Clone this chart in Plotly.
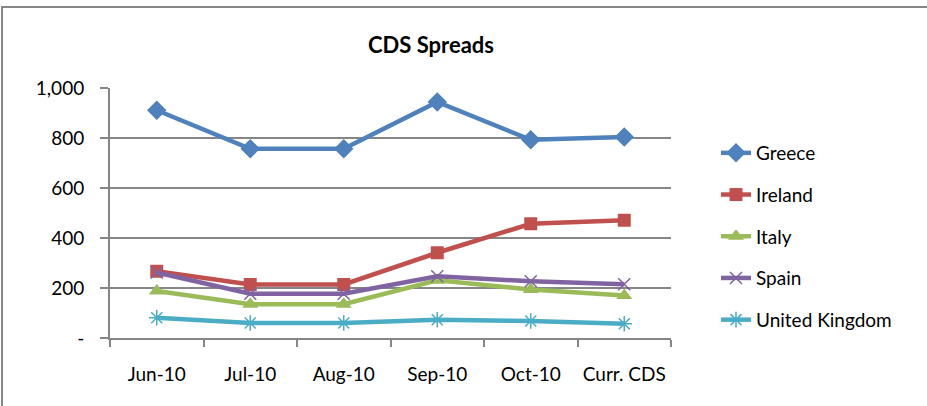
import plotly.graph_objects as go

categories = ["Jun-10", "Jul-10", "Aug-10", "Sep-10", "Oct-10", "Curr. CDS"]
greece = [911, 757, 757, 944, 793, 804]
ireland = [267, 214, 214, 341, 457, 471]
italy = [188, 135, 135, 231, 194, 170]
spain = [262, 177, 177, 247, 227, 215]
uk = [81, 60, 60, 73, 68, 57]

ytick_vals = [0, 200, 400, 600, 800, 1000]
ytick_text = ["-", "200", "400", "600", "800", "1,000"]

W, H = 927, 406
L, R, T, B = 110, 256, 88, 68
PW, PH = W - L - R, H - T - B

FONT = "Lato"

series = [
    ("Greece", greece, "#4F81BD", dict(symbol="diamond", size=15)),
    ("Ireland", ireland, "#C0504D", dict(symbol="square", size=13)),
    ("Italy", italy, "#9BBB59", dict(symbol="triangle-up", size=14)),
    ("Spain", spain, "#8064A2", dict(symbol="x-thin", size=12)),
    ("United Kingdom", uk, "#4BACC6", dict(symbol="asterisk", size=13)),
]

fig = go.Figure()
for i, (name, vals, color, mk) in enumerate(series):
    marker = dict(color=color, **mk)
    if "thin" in mk["symbol"] or mk["symbol"] == "asterisk":
        marker["line"] = dict(color=color, width=1.5)
    fig.add_trace(go.Scatter(
        x=categories, y=vals, name=name, mode="lines+markers",
        line=dict(color=color, width=4.5),
        marker=marker,
        legendgroup=f"g{i}",
    ))

def px_x(px):
    return (px - L) / PW

def px_y(py):
    return (H - B - py) / PH

fig.update_layout(
    width=W, height=H,
    margin=dict(l=L, r=R, t=T, b=B, autoexpand=False),
    paper_bgcolor="white", plot_bgcolor="white",
    font=dict(family=FONT, size=19, color="#000000"),
    title=dict(text="<b>CDS Spreads</b>", font=dict(family=FONT, size=22, color="#000000"),
               x=431 / W, xanchor="center", xref="container",
               y=1 - 45.5 / H, yanchor="middle", yref="container"),
    showlegend=True,
    legend=dict(x=px_x(716), xanchor="left", y=px_y(134), yanchor="top",
                font=dict(family=FONT, size=19, color="#000000"),
                tracegroupgap=14, bgcolor="rgba(0,0,0,0)", itemwidth=30),
    xaxis=dict(
        type="category", range=[-0.5, 5.5],
        showgrid=False, showline=True, linecolor="#868686", linewidth=2,
        ticks="outside", tickson="boundaries", ticklen=7, tickwidth=2, tickcolor="#868686",
        ticklabelstandoff=18, tickfont=dict(family=FONT, size=19, color="#000000"),
    ),
    yaxis=dict(
        range=[0, 1000], tickvals=ytick_vals, ticktext=ytick_text,
        showgrid=True, gridcolor="#868686", gridwidth=2,
        showline=True, linecolor="#868686", linewidth=2,
        ticks="outside", ticklen=8, tickwidth=2, tickcolor="#868686",
        ticklabelstandoff=12, zeroline=False,
        tickfont=dict(family=FONT, size=19, color="#000000"),
    ),
    shapes=[dict(type="rect", xref="paper", yref="paper",
                 x0=px_x(2), x1=px_x(940), y0=px_y(7), y1=px_y(420),
                 line=dict(color="#868686", width=2), fillcolor="rgba(0,0,0,0)", layer="below")],
)

fig.write_html("out.html", config={"displayModeBar": False},
               post_script="document.body.style.margin='0';document.body.style.overflow='hidden';")
